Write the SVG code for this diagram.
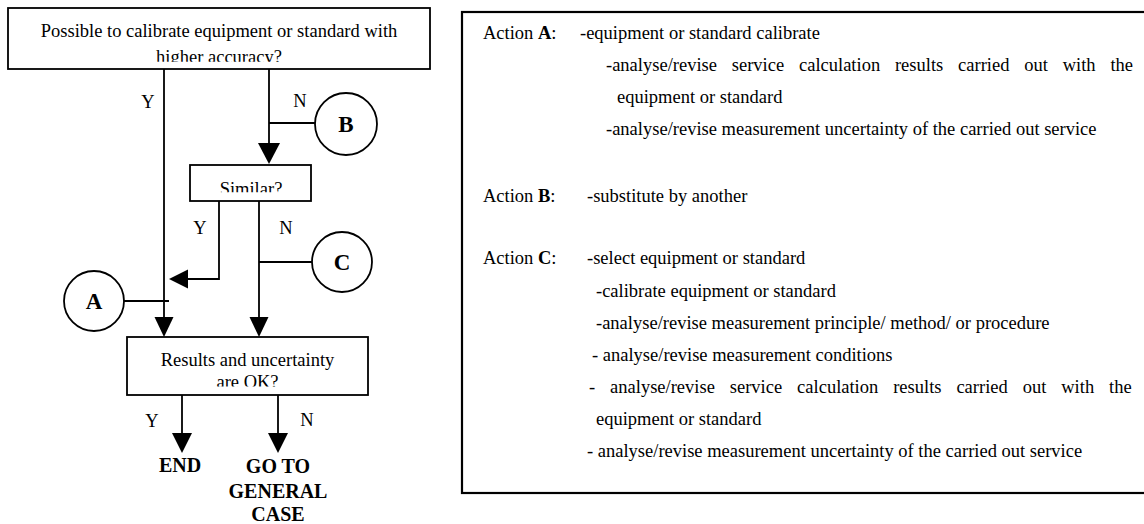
<svg xmlns="http://www.w3.org/2000/svg" width="1144" height="524" viewBox="0 0 1144 524">
<style>
.box{fill:#fff;stroke:#000;stroke-width:1.8}
.ln{fill:none;stroke:#000;stroke-width:1.8}
.ah{fill:#000;stroke:none}
.t{font-family:"Liberation Serif","Times New Roman",serif;font-size:18.5px;fill:#000}
.c{text-anchor:middle}
.b{font-weight:bold}
.cl{font-family:"Liberation Serif","Times New Roman",serif;font-size:23px;font-weight:bold;text-anchor:middle;fill:#000}
.lb{font-family:"Liberation Serif","Times New Roman",serif;font-size:20px;font-weight:bold;text-anchor:middle;fill:#000}
</style>
<defs>
<clipPath id="clipTop"><rect x="10" y="10" width="418" height="51.7"/></clipPath>
<clipPath id="clipSim"><rect x="192" y="166" width="118" height="26.3"/></clipPath>
<clipPath id="clipRes"><rect x="129" y="339" width="237" height="47.5"/></clipPath>
</defs>
<rect width="1144" height="524" fill="#fff"/>

<g id="connectors">
<line class="ln" x1="164" y1="69" x2="164" y2="318"/>
<polygon class="ah" points="154.5,317 173.5,317 164,337"/>
<line class="ln" x1="269" y1="69" x2="269" y2="144"/>
<polygon class="ah" points="258,143 280,143 269,164"/>
<line class="ln" x1="269" y1="123" x2="315" y2="123"/>
<polyline class="ln" points="219,201 219,279 187,279"/>
<polygon class="ah" points="188,269.5 188,288.5 169,279"/>
<line class="ln" x1="259" y1="201" x2="259" y2="318"/>
<polygon class="ah" points="249.5,317 268.5,317 259,337"/>
<line class="ln" x1="259" y1="262" x2="312" y2="262"/>
<line class="ln" x1="124" y1="301" x2="169" y2="301"/>
<line class="ln" x1="182" y1="395" x2="182" y2="434"/>
<polygon class="ah" points="172,433 192,433 182,453"/>
<line class="ln" x1="278" y1="395" x2="278" y2="434"/>
<polygon class="ah" points="268,433 288,433 278,453"/>
<text class="t c" x="148" y="108">Y</text>
<text class="t c" x="300" y="107">N</text>
<text class="t c" x="200" y="234">Y</text>
<text class="t c" x="286" y="234">N</text>
<text class="t c" x="152" y="427">Y</text>
<text class="t c" x="307" y="426">N</text>
</g>

<g id="node-top">
<rect class="box" x="8" y="8" width="422" height="61"/>
<g clip-path="url(#clipTop)">
<text class="t c" x="219" y="36.7">Possible to calibrate equipment or standard with</text>
<text class="t c" x="219" y="62.7">higher accuracy?</text>
</g>
</g>

<g id="node-B">
<circle class="box" cx="346" cy="124" r="31"/>
<text class="cl" x="346" y="132">B</text>
</g>

<g id="node-similar">
<rect class="box" x="190" y="165" width="121" height="36"/>
<g clip-path="url(#clipSim)">
<text class="t c" x="251" y="194.5">Similar?</text>
</g>
</g>

<g id="node-C">
<circle class="box" cx="342" cy="262" r="30"/>
<text class="cl" x="342" y="270">C</text>
</g>

<g id="node-A">
<circle class="box" cx="94" cy="301" r="30"/>
<text class="cl" x="94" y="309">A</text>
</g>

<g id="node-results">
<rect class="box" x="127" y="337" width="241" height="58"/>
<g clip-path="url(#clipRes)">
<text class="t c" x="247.5" y="366">Results and uncertainty</text>
<text class="t c" x="247.5" y="388">are OK?</text>
</g>
</g>

<g id="node-end">
<text class="lb" x="180" y="472">END</text>
</g>

<g id="node-general">
<text class="lb" x="278" y="473">GO TO</text>
<text class="lb" x="278" y="498">GENERAL</text>
<text class="lb" x="278" y="521">CASE</text>
</g>

<g id="node-actions">
<rect x="462" y="12" width="700" height="481" fill="#fff" stroke="#000" stroke-width="2.2"/>
<text class="t" x="483" y="39">Action <tspan class="b">A</tspan>:</text>
<text class="t" x="580" y="39">-equipment or standard calibrate</text>
<text class="t" x="606" y="71" word-spacing="10.2">-analyse/revise service calculation results carried out with the</text>
<text class="t" x="617" y="103">equipment or standard</text>
<text class="t" x="606" y="135">-analyse/revise measurement uncertainty of the carried out service</text>
<text class="t" x="483" y="202">Action <tspan class="b">B</tspan>:</text>
<text class="t" x="587" y="202">-substitute by another</text>
<text class="t" x="483" y="264">Action <tspan class="b">C</tspan>:</text>
<text class="t" x="587" y="264">-select equipment or standard</text>
<text class="t" x="596" y="297">-calibrate equipment or standard</text>
<text class="t" x="596" y="329">-analyse/revise measurement principle/ method/ or procedure</text>
<text class="t" x="592" y="361">- analyse/revise measurement conditions</text>
<text class="t" x="589" y="393" word-spacing="10.3">- analyse/revise service calculation results carried out with the</text>
<text class="t" x="596" y="425">equipment or standard</text>
<text class="t" x="587" y="457">- analyse/revise measurement uncertainty of the carried out service</text>
</g>
</svg>
